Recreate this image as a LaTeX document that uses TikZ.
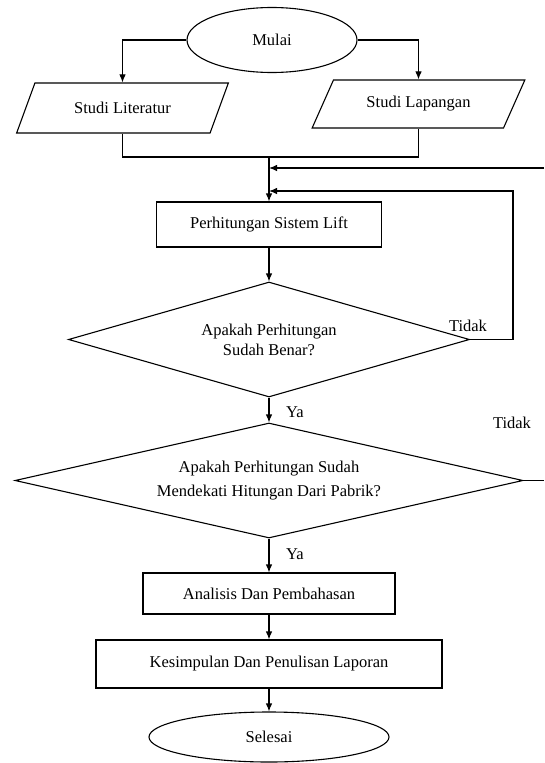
\documentclass[tikz,border=0pt]{standalone}
\usepackage{fontspec}
\setmainfont{Liberation Serif}
\usepackage{tikz}
\usetikzlibrary{shapes.geometric}
\usetikzlibrary{arrows.meta}

\begin{document}
\begin{tikzpicture}[x=1pt,y=-1pt,line width=1.1pt,>={Latex[length=8pt,width=6.5pt]},
    every node/.style={font=\fontsize{16.5}{20}\selectfont},
    term/.style={draw,ellipse,inner sep=0pt},
    io/.style={draw,trapezium,trapezium left angle=49,trapezium right angle=131,
      trapezium stretches=true,inner sep=0pt},
    box/.style={draw,rectangle,inner sep=0pt},
    cek/.style={draw,diamond,inner sep=0pt,align=center}]
    \useasboundingbox (0,0) rectangle (544,763);
    \node[term,minimum width=170pt,minimum height=65pt] (mulai) at (272,40) {Mulai};
    \node[io,minimum width=212pt,minimum height=50pt] (lit) at (122.5,108) {Studi Literatur};
    \node[io,minimum width=213pt,minimum height=48pt] (lap) at (418.5,104) {Studi Lapangan};
    \node[box,minimum width=225pt,minimum height=45pt] (hitung) at (269,224.5) {Perhitungan Sistem Lift};
    \node[cek,aspect=3.5,minimum width=401pt,minimum height=115pt] (cek1) at (269,339.5)
      {Apakah Perhitungan\\Sudah Benar?};
    \node[cek,aspect=4.4,minimum width=508pt,minimum height=115pt] (cek2) at (269,480.5)
      {Apakah Perhitungan Sudah\\[4pt]Mendekati Hitungan Dari Pabrik?};
    \node[box,minimum width=252pt,minimum height=41pt] (analisis) at (269,593.5) {Analisis Dan Pembahasan};
    \node[box,minimum width=346pt,minimum height=48pt] (simpul) at (269,664) {Kesimpulan Dan Penulisan Laporan};
    \node[term,minimum width=240pt,minimum height=50pt] (selesai) at (269,737) {Selesai};
    \node (tidak1) at (468,326) {Tidak};
    \node (tidak2) at (512,423) {Tidak};
    \node (ya1) at (295,412) {Ya};
    \node (ya2) at (295,554) {Ya};
    \coordinate (gabung) at (269,157);
    \coordinate (balik1) at (269,191);
    \coordinate (sudut1) at (513,191);
    \coordinate (balik2) at (269,168);
    \coordinate (tepi1) at (544,168);
    \coordinate (tepi2) at (544,480.5);
    \draw[->] (mulai.west) -| (lit.north);
    \draw[->] (mulai.east) -| (lap.north);
    \draw (lit.south) |- (gabung) -| (lap.south);
    \draw[->] (gabung) -- (hitung.north);
    \draw[->] (tepi1) -- (balik2);
    \draw[->] (cek1.east) -| (sudut1) -- (balik1);
    \draw[->] (hitung.south) -- (cek1.north);
    \draw[->] (cek1.south) -- (cek2.north);
    \draw (cek2.east) -- (tepi2);
    \draw[->] (cek2.south) -- (analisis.north);
    \draw[->] (analisis.south) -- (simpul.north);
    \draw[->] (simpul.south) -- (selesai.north);
  \end{tikzpicture}
\end{document}
